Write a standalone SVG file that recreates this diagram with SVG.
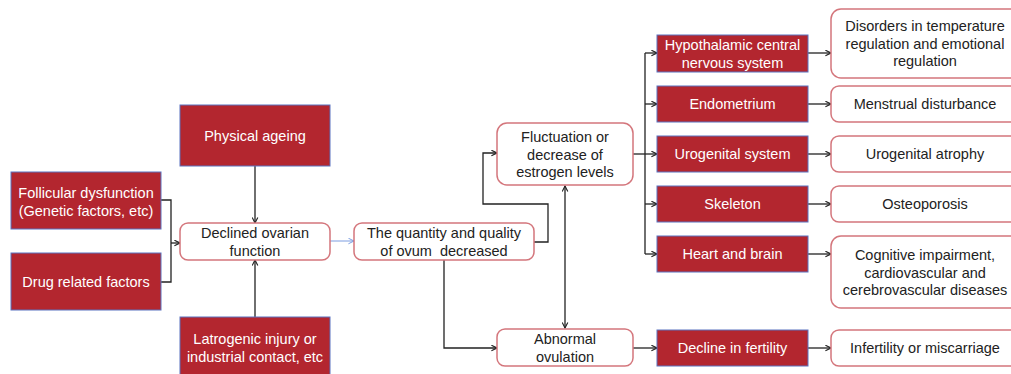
<svg xmlns="http://www.w3.org/2000/svg" width="1011" height="374" viewBox="0 0 1011 374">
<style>
.red{fill:#B3262F;stroke:#5A72C0;stroke-width:1}
.wb{fill:#fff;stroke:#D4767C;stroke-width:1.5}
text{font-family:"Liberation Sans",Arial,sans-serif;font-size:14.5px;text-anchor:middle}
.w{fill:#fff}
.k{fill:#222}
.c{fill:none;stroke:#222;stroke-width:1.3}
.b{fill:none;stroke:#7C9DE0;stroke-width:1}
</style>
<defs>
<marker id="ah" viewBox="0 0 10 10" refX="9" refY="5" markerWidth="7" markerHeight="7" markerUnits="userSpaceOnUse" orient="auto-start-reverse">
<path d="M1,1 L9,5 L1,9" fill="none" stroke="#222" stroke-width="1.6"/>
</marker>
<marker id="ahb" viewBox="0 0 10 10" refX="9" refY="5" markerWidth="7" markerHeight="7" markerUnits="userSpaceOnUse" orient="auto">
<path d="M1,1 L9,5 L1,9" fill="none" stroke="#7C9DE0" stroke-width="1.4"/>
</marker>
</defs>
<rect width="1011" height="374" fill="#fff"/>
<g id="connectors">
<path class="c" d="M255,166 V223" marker-end="url(#ah)"/>
<path class="c" d="M255,317 V260" marker-end="url(#ah)"/>
<path class="c" d="M161,200 H171 V282 H161"/>
<path class="c" d="M171,243 H180" marker-end="url(#ah)"/>
<path class="b" d="M330,241 H354" marker-end="url(#ahb)"/>
<path class="c" d="M534,242 H548 V204 H483 V153 H497" marker-end="url(#ah)"/>
<path class="c" d="M444,260 V348 H497" marker-end="url(#ah)"/>
<path class="c" d="M565,186 V328" marker-start="url(#ah)" marker-end="url(#ah)"/>
<path class="c" d="M633,348 H657" marker-end="url(#ah)"/>
<path class="c" d="M633,154 H645"/>
<path class="c" d="M645,53 V254"/>
<path class="c" d="M645,53 H657" marker-end="url(#ah)"/>
<path class="c" d="M645,104 H657" marker-end="url(#ah)"/>
<path class="c" d="M645,154 H657" marker-end="url(#ah)"/>
<path class="c" d="M645,204 H657" marker-end="url(#ah)"/>
<path class="c" d="M645,254 H657" marker-end="url(#ah)"/>
<path class="c" d="M808,53 H831" marker-end="url(#ah)"/>
<path class="c" d="M808,104 H831" marker-end="url(#ah)"/>
<path class="c" d="M808,154 H831" marker-end="url(#ah)"/>
<path class="c" d="M808,204 H831" marker-end="url(#ah)"/>
<path class="c" d="M808,254 H831" marker-end="url(#ah)"/>
<path class="c" d="M808,348 H831" marker-end="url(#ah)"/>
</g>
<g id="physical-ageing"><rect class="red" x="180" y="105" width="150" height="61"/><text class="w" x="255" y="140.5">Physical ageing</text></g>
<g id="follicular"><rect class="red" x="11" y="172" width="150" height="57"/><text class="w" x="86" y="198">Follicular dysfunction</text><text class="w" x="86" y="215.5">(Genetic factors, etc)</text></g>
<g id="drug"><rect class="red" x="11" y="253" width="150" height="57"/><text class="w" x="86" y="287">Drug related factors</text></g>
<g id="declined-ovarian"><rect class="wb" x="180" y="223" width="150" height="37" rx="8"/><text class="k" x="255" y="238">Declined ovarian</text><text class="k" x="255" y="256">function</text></g>
<g id="latrogenic"><rect class="red" x="180" y="317" width="150" height="62"/><text class="w" x="255" y="344">Latrogenic injury or</text><text class="w" x="255" y="361.5">industrial contact, etc</text></g>
<g id="quantity"><rect class="wb" x="354" y="223" width="180" height="37" rx="8"/><text class="k" x="444" y="238">The quantity and quality</text><text class="k" x="444" y="256" xml:space="preserve">of ovum  decreased</text></g>
<g id="fluctuation"><rect class="wb" x="497" y="123" width="136" height="62" rx="10"/><text class="k" x="565" y="142">Fluctuation or</text><text class="k" x="565" y="159.5">decrease of</text><text class="k" x="565" y="177">estrogen levels</text></g>
<g id="abnormal"><rect class="wb" x="497" y="329" width="136" height="37" rx="8"/><text class="k" x="565" y="344">Abnormal</text><text class="k" x="565" y="362">ovulation</text></g>
<g id="hypothalamic"><rect class="red" x="657" y="35" width="151" height="37"/><text class="w" x="732.5" y="50">Hypothalamic central</text><text class="w" x="732.5" y="67.5">nervous system</text></g>
<g id="endometrium"><rect class="red" x="657" y="86" width="151" height="36"/><text class="w" x="732.5" y="109">Endometrium</text></g>
<g id="urogenital"><rect class="red" x="657" y="136" width="151" height="36"/><text class="w" x="732.5" y="159">Urogenital system</text></g>
<g id="skeleton"><rect class="red" x="657" y="186" width="151" height="36"/><text class="w" x="732.5" y="209">Skeleton</text></g>
<g id="heart-brain"><rect class="red" x="657" y="236" width="151" height="36"/><text class="w" x="732.5" y="259">Heart and brain</text></g>
<g id="decline-fertility"><rect class="red" x="657" y="330" width="151" height="36"/><text class="w" x="732.5" y="353">Decline in fertility</text></g>
<g id="disorders"><rect class="wb" x="831" y="9" width="190" height="69" rx="10"/><text class="k" x="925" y="31">Disorders in temperature</text><text class="k" x="925" y="48.5">regulation and emotional</text><text class="k" x="925" y="66">regulation</text></g>
<g id="menstrual"><rect class="wb" x="831" y="86" width="190" height="36" rx="8"/><text class="k" x="925" y="109">Menstrual disturbance</text></g>
<g id="urogenital-atrophy"><rect class="wb" x="831" y="136" width="190" height="36" rx="8"/><text class="k" x="925" y="159">Urogenital atrophy</text></g>
<g id="osteoporosis"><rect class="wb" x="831" y="186" width="190" height="36" rx="8"/><text class="k" x="925" y="209">Osteoporosis</text></g>
<g id="cognitive"><rect class="wb" x="831" y="236" width="190" height="72" rx="10"/><text class="k" x="925" y="260">Cognitive impairment,</text><text class="k" x="925" y="277.5">cardiovascular and</text><text class="k" x="925" y="295">cerebrovascular diseases</text></g>
<g id="infertility"><rect class="wb" x="831" y="330" width="190" height="36" rx="8"/><text class="k" x="925" y="353">Infertility or miscarriage</text></g>
</svg>
